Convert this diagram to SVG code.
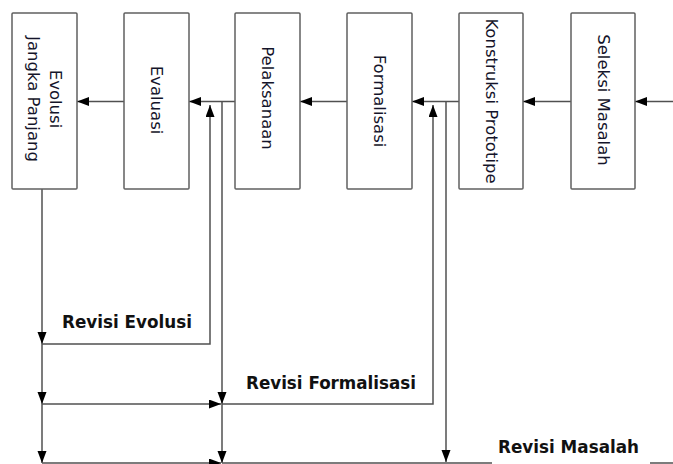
<svg xmlns="http://www.w3.org/2000/svg" width="673" height="464" viewBox="0 0 673 464">
<style>
.box{fill:#fff;stroke:#606060;stroke-width:1.5}
.lbl{font-family:"DejaVu Sans",Verdana,sans-serif;font-size:16.5px;fill:#14142a;text-anchor:middle;dominant-baseline:central}
.rev{font-family:"DejaVu Sans","Liberation Sans",sans-serif;font-weight:bold;font-size:17px;fill:#111}
.c{fill:none;stroke:#505050;stroke-width:1.5}
.a{marker-end:url(#ah)}
</style>
<defs>
<marker id="ah" markerUnits="userSpaceOnUse" markerWidth="12" markerHeight="10" refX="12" refY="4.5" orient="auto">
<path d="M0,0 L12,4.5 L0,9 z" fill="#000"/>
</marker>
</defs>
<rect width="673" height="464" fill="#fff"/>
<g id="connectors">
<line class="c a" x1="673" y1="101.5" x2="635" y2="101.5"/>
<line class="c a" x1="571" y1="101.5" x2="523" y2="101.5"/>
<line class="c a" x1="459" y1="101.5" x2="412" y2="101.5"/>
<line class="c a" x1="347" y1="101.5" x2="300" y2="101.5"/>
<line class="c a" x1="235" y1="101.5" x2="189" y2="101.5"/>
<line class="c a" x1="124" y1="101.5" x2="77" y2="101.5"/>
<line class="c a" x1="42" y1="189" x2="42" y2="344"/>
<line class="c a" x1="42" y1="344" x2="42" y2="404"/>
<line class="c a" x1="42" y1="404" x2="42" y2="463"/>
<path class="c a" d="M42,344 H210 V105"/>
<line class="c a" x1="222" y1="101.5" x2="222" y2="404"/>
<line class="c a" x1="222" y1="404" x2="222" y2="463"/>
<line class="c a" x1="42" y1="404" x2="221" y2="404"/>
<path class="c a" d="M222,404 H433 V105"/>
<line class="c a" x1="446" y1="101.5" x2="446" y2="462"/>
<line class="c a" x1="42" y1="463" x2="221" y2="463"/>
<line class="c" x1="222" y1="463" x2="673" y2="463"/>
<rect x="492" y="440" width="158" height="24" fill="#fff"/>
</g>
<g id="n1"><rect class="box" x="12" y="13" width="65" height="176" rx="1"/>
<text class="lbl" transform="translate(44.5,99) rotate(90)"><tspan x="0" y="-11">Evolusi</tspan><tspan x="0" y="11">Jangka Panjang</tspan></text></g>
<g id="n2"><rect class="box" x="124" y="13" width="65" height="176" rx="1"/>
<text class="lbl" transform="translate(156.5,100) rotate(90)" x="0" y="0">Evaluasi</text></g>
<g id="n3"><rect class="box" x="235" y="13" width="65" height="176" rx="1"/>
<text class="lbl" transform="translate(267.5,98) rotate(90)" x="0" y="0">Pelaksanaan</text></g>
<g id="n4"><rect class="box" x="347" y="13" width="65" height="176" rx="1"/>
<text class="lbl" transform="translate(379.5,101) rotate(90)" x="0" y="0">Formalisasi</text></g>
<g id="n5"><rect class="box" x="459" y="13" width="64" height="176" rx="1"/>
<text class="lbl" transform="translate(491,101) rotate(90)" x="0" y="0">Konstruksi Prototipe</text></g>
<g id="n6"><rect class="box" x="571" y="13" width="64" height="176" rx="1"/>
<text class="lbl" transform="translate(603,100) rotate(90)" x="0" y="0">Seleksi Masalah</text></g>
<g id="labels">
<text class="rev" x="62" y="328" textLength="130" lengthAdjust="spacingAndGlyphs">Revisi Evolusi</text>
<text class="rev" x="246" y="389" textLength="170" lengthAdjust="spacingAndGlyphs">Revisi Formalisasi</text>
<text class="rev" x="498" y="453" textLength="141" lengthAdjust="spacingAndGlyphs">Revisi Masalah</text>
</g>
</svg>
